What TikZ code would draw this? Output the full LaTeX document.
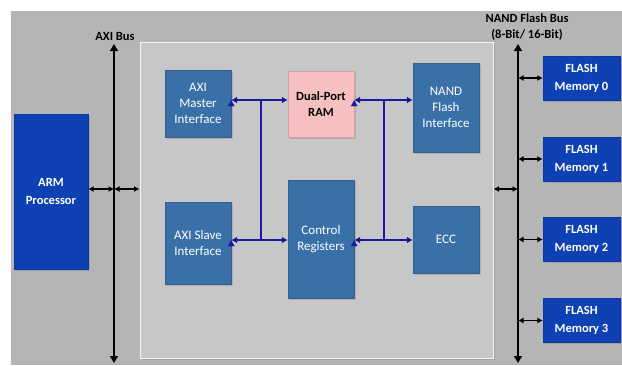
\documentclass[tikz,border=0pt]{standalone}
\usepackage{fontspec}
\setmainfont{Carlito}
\usepackage{tikz}
\usetikzlibrary{arrows.meta,shadows}

\definecolor{bggray}{RGB}{181,181,181}
\definecolor{coregray}{RGB}{199,199,199}
\definecolor{armblue}{RGB}{14,66,180}
\definecolor{ipblue}{RGB}{58,112,168}
\definecolor{rampink}{RGB}{247,192,192}
\definecolor{linkblue}{RGB}{26,26,160}

\begin{document}
\begin{tikzpicture}[x=1pt, y=-1pt,
	ipblock/.style={rectangle, fill=ipblue, draw=ipblue!85!black, text=white, align=center,
		minimum width=66pt, inner sep=1pt, font=\fontsize{13}{16}\selectfont,
		drop shadow={shadow xshift=1.5pt, shadow yshift=-1.5pt, opacity=0.35}},
	devblock/.style={rectangle, fill=armblue, draw=armblue!85!black, text=white, align=center,
		inner sep=1pt, font=\bfseries\fontsize{12.5}{18}\selectfont,
		drop shadow={shadow xshift=1.5pt, shadow yshift=-1.5pt, opacity=0.35}},
	rampart/.style={ipblock, fill=rampink, draw=rampink!85!black, text=black, font=\bfseries\fontsize{12.5}{16}\selectfont},
	coreblock/.style={rectangle, fill=coregray, draw=white!80!coregray, line width=1pt,
		drop shadow={shadow xshift=2pt, shadow yshift=-2pt, opacity=0.3}},
	buslabel/.style={align=center, font=\bfseries\fontsize{12.5}{16}\selectfont},
	busline/.style={{Triangle[length=7pt,width=8pt]}-{Triangle[length=7pt,width=8pt]}, line width=1.6pt},
	tap/.style={{Latex[length=5.5pt,width=6pt]}-{Latex[length=5.5pt,width=6pt]}, line width=1.3pt},
	link/.style={{Latex[length=6pt,width=7pt]}-{Latex[length=6pt,width=7pt]}, draw=linkblue, line width=1.5pt},
	wire/.style={draw=linkblue, line width=1.5pt}]
	
	\useasboundingbox (0, 0) rectangle (622, 365);
	\fill[bggray] (11, 11) rectangle (622, 365);
	
	% controller
	\node[coreblock, minimum width=353pt, minimum height=316pt] (core) at (316.5, 200) {};
	
	\node[devblock, minimum width=74pt, minimum height=155pt] (arm) at (51, 191.5) {ARM\\Processor};
	
	\node[ipblock, minimum height=67pt] (master) at (198, 103.5) {AXI\\Master\\Interface};
	\node[rampart, minimum height=66pt] (ram) at (321, 104) {Dual-Port\\RAM};
	\node[ipblock, minimum height=89pt] (nandif) at (446, 107.5) {NAND\\Flash\\Interface};
	\node[ipblock, minimum height=82pt] (slave) at (198, 243) {AXI Slave\\Interface};
	\node[ipblock, minimum height=118pt] (ctrl) at (321, 239) {Control\\Registers};
	\node[ipblock, minimum height=67pt] (ecc) at (446, 239.5) {ECC};
	
	% flash chips
	\node[devblock, minimum width=77pt, minimum height=44pt] (flash0) at (581.5, 78) {FLASH\\Memory 0};
	\node[devblock, minimum width=77pt, minimum height=44pt] (flash1) at (581.5, 159) {FLASH\\Memory 1};
	\node[devblock, minimum width=77pt, minimum height=44pt] (flash2) at (581.5, 239.5) {FLASH\\Memory 2};
	\node[devblock, minimum width=77pt, minimum height=44pt] (flash3) at (581.5, 320.5) {FLASH\\Memory 3};
	
	% buses
	\coordinate (axitop) at (114, 44);
	\coordinate (axibot) at (114, 363);
	\coordinate (axihub) at (114, 189);
	\coordinate (nandtop) at (518, 44);
	\coordinate (nandbot) at (518, 363);
	\coordinate (nandhub) at (518, 189);
	
	\node[buslabel] (axilabel) at (115, 36) {AXI Bus};
	\node[buslabel] (nandlabel) at (527, 27) {NAND Flash Bus\\(8-Bit/ 16-Bit)};
	
	\path[busline] (axitop) edge (axibot);
	\path[busline] (nandtop) edge (nandbot);
	
	\path[tap] (arm.east |- axihub) edge (axihub);
	\path[tap] (axihub) edge (core.west |- axihub);
	\path[tap] (core.east |- nandhub) edge (nandhub);
	\path[tap] (nandtop |- flash0.west) edge (flash0.west);
	\path[tap] (nandtop |- flash1.west) edge (flash1.west);
	\path[tap] (nandtop |- flash2.west) edge (flash2.west);
	\path[tap] (nandtop |- flash3.west) edge (flash3.west);
	
	% internal links
	\coordinate (j1) at (261, 100);
	\coordinate (j2) at (261, 240);
	\coordinate (j3) at (384, 100);
	\coordinate (j4) at (384, 240);
	
	\path[wire] (j1) edge (j2);
	\path[wire] (j3) edge (j4);
	\path[link] (master.east |- j1) edge (ram.west |- j1);
	\path[link] (ram.east |- j3) edge (nandif.west |- j3);
	\path[link] (slave.east |- j2) edge (ctrl.west |- j2);
	\path[link] (ctrl.east |- j4) edge (ecc.west |- j4);
	
\end{tikzpicture}
\end{document}
